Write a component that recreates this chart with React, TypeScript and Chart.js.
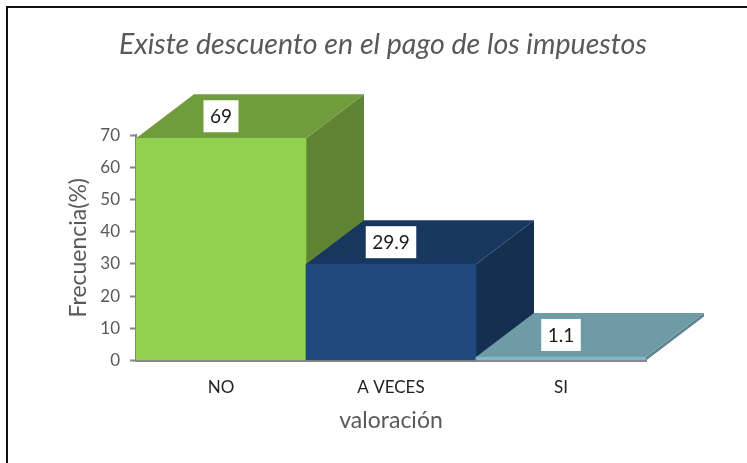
import React, { useEffect, useRef } from "react";
import { Chart, registerables } from "chart.js";

Chart.register(...registerables);

const categories = ["NO", "A VECES", "SI"];
const frecuencia = [69, 29.9, 1.1];
const labels = ["69", "29.9", "1.1"];
const frontColors = ["#92d050", "#1f497d", "#7fb9c9"];
const topColors = ["#719c3d", "#17375e", "#6f9ba6"];
const sideColors = ["#5f8433", "#152f50", "#5d858f"];
const yTicks = [0, 10, 20, 30, 40, 50, 60, 70];
const FONT = "Lato, 'Open Sans', sans-serif";

const DX = 58;
const DY = 44;

const depthPlugin = {
  id: "depth",
  afterLayout(chart: any) {
    // the title is centred a little left of the plot in the original
    chart.titleBlock.left = 66;
    chart.titleBlock.right = 700;
  },
  beforeDatasetsDraw(chart: any) {
    const { ctx } = chart;
    const meta = chart.getDatasetMeta(0);
    const y0 = chart.scales.y.getPixelForValue(0);
    // left to right: each bar's top face covers the side of the bar before it
    meta.data.forEach((el: any, i: number) => {
      const l = el.x - el.width / 2;
      const r = el.x + el.width / 2;
      const t = el.y;
      ctx.save();
      ctx.fillStyle = sideColors[i];
      ctx.beginPath();
      ctx.moveTo(r, t);
      ctx.lineTo(r + DX, t - DY);
      ctx.lineTo(r + DX, y0 - DY);
      ctx.lineTo(r, y0);
      ctx.closePath();
      ctx.fill();
      ctx.fillStyle = topColors[i];
      ctx.beginPath();
      ctx.moveTo(l, t);
      ctx.lineTo(l + DX, t - DY);
      ctx.lineTo(r + DX, t - DY);
      ctx.lineTo(r, t);
      ctx.closePath();
      ctx.fill();
      ctx.restore();
    });
  },
  afterDatasetsDraw(chart: any) {
    const { ctx } = chart;
    const meta = chart.getDatasetMeta(0);
    meta.data.forEach((el: any, i: number) => {
      const cx = el.x;
      const cy = el.y - 22;
      ctx.save();
      ctx.font = `19px ${FONT}`;
      const w = ctx.measureText(labels[i]).width + 13;
      const h = 32;
      ctx.fillStyle = "#ffffff";
      ctx.fillRect(cx - w / 2, cy - h / 2, w, h);
      ctx.fillStyle = "#1a1a1a";
      ctx.textAlign = "center";
      ctx.textBaseline = "middle";
      ctx.fillText(labels[i], cx, cy + 1);
      ctx.restore();
    });
  },
};

export default function App() {
  const ref = useRef<HTMLCanvasElement>(null);
  useEffect(() => {
    const chart = new Chart(ref.current!, {
      type: "bar",
      data: {
        labels: categories,
        datasets: [
          {
            data: frecuencia,
            backgroundColor: frontColors,
            categoryPercentage: 1,
            barPercentage: 1,
          },
        ],
      },
      options: {
        animation: false,
        responsive: false,
        layout: { padding: { left: 0, right: 101, top: 0, bottom: 24.5 } },
        plugins: {
          legend: { display: false },
          tooltip: { enabled: false },
          title: {
            display: true,
            text: "Existe descuento en el pago de los impuestos",
            color: "#595959",
            font: { family: FONT, size: 28.6, style: "italic", weight: "normal" },
            padding: { top: 28, bottom: 72.7 },
          },
        },
        scales: {
          x: {
            grid: { display: false, drawTicks: false },
            border: { color: "#868686", width: 2 },
            ticks: { color: "#222222", font: { family: FONT, size: 17 }, padding: 17 },
            title: {
              display: true,
              text: "valoración",
              color: "#595959",
              font: { family: FONT, size: 23 },
              padding: { top: 8 },
            },
            afterFit(s: any) {
              s.height = 78;
            },
          },
          y: {
            min: 0,
            max: 70,
            afterBuildTicks(s: any) {
              s.ticks = yTicks.map((value) => ({ value }));
            },
            grid: { display: true, drawOnChartArea: false, tickLength: 6, tickColor: "#868686", tickWidth: 2 },
            border: { color: "#868686", width: 2 },
            ticks: { color: "#595959", font: { family: FONT, size: 17 }, padding: 10 },
            title: {
              display: true,
              text: "Frecuencia(%)",
              color: "#595959",
              font: { family: FONT, size: 23 },
              padding: { top: 65 },
            },
            afterFit(s: any) {
              s.width = 136;
            },
          },
        },
      },
      plugins: [depthPlugin],
    } as any);
    return () => chart.destroy();
  }, []);
  return (
    <div style={{ position: "absolute", left: 0, top: 0, width: 747, height: 463, background: "#fff", overflow: "hidden" }}>
      <canvas ref={ref} width={747} height={463} style={{ display: "block" }} />
      <div style={{ position: "absolute", left: 6, top: 6, right: 0, bottom: 0, borderTop: "2px solid #111", borderLeft: "2px solid #111", pointerEvents: "none" }} />
    </div>
  );
}
